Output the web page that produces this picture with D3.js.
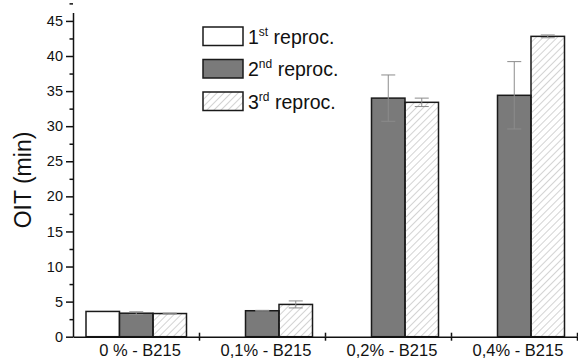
<!DOCTYPE html>
<html>
<head>
<meta charset="utf-8">
<script src="https://cdn.jsdelivr.net/npm/d3@7"></script>
<style>
  body { margin: 0; background: #fff; }
  text { font-family: "Liberation Sans", Arial, sans-serif; fill: #111; }
</style>
</head>
<body>
<div id="chart"></div>
<script>
// values
const categories = ["0 % - B215", "0,1% - B215", "0,2% - B215", "0,4% - B215"];
const series = ["1st", "2nd", "3rd"];
const seriesSup = ["st", "nd", "rd"];
const first = [3.6, null, null, null];
const second = [3.35, 3.7, 34.0, 34.4];
const third = [3.3, 4.6, 33.4, 42.8];
const firstErr = [0, 0, 0, 0];
const secondErr = [0.2, 0.05, 3.3, 4.8];
const thirdErr = [0.05, 0.5, 0.6, 0.2];
const yTicks = [0, 5, 10, 15, 20, 25, 30, 35, 40, 45];

const width = 578, height = 358;
const plotLeft = 73, plotRight = 577, plotTop = 12.5, plotBottom = 336.7;

const svg = d3.select("#chart").append("svg")
  .attr("width", width)
  .attr("height", height);

// hatch for the 3rd series
const defs = svg.append("defs");
defs.append("pattern")
  .attr("id", "hatch")
  .attr("patternUnits", "userSpaceOnUse")
  .attr("width", 5).attr("height", 5)
  .attr("patternTransform", "rotate(45)")
  .append("line")
    .attr("x1", 0).attr("y1", 0).attr("x2", 0).attr("y2", 5)
    .attr("stroke", "#a8a8a8").attr("stroke-width", 1);

const fills = ["#ffffff", "#7a7a7a", "url(#hatch)"];

let x0 = d3.scaleBand().domain(categories).range([plotLeft, plotRight]).padding(0);
let x1 = d3.scaleBand().domain(series).range([13, x0.bandwidth() - 12.5]);
let y = d3.scaleLinear().domain([0, 46.2]).range([plotBottom, plotTop]);

// build rows for the bars
let rows = [];
categories.forEach(function(c, i) {
  [first, second, third].forEach(function(arr, s) {
    let errs = [firstErr, secondErr, thirdErr][s];
    if (arr[i] != null) rows.push({cat: c, s: s, v: arr[i], e: errs[i]});
  });
});

svg.selectAll("rect.bar")
  .data(rows)
  .enter()
  .append("rect")
    .attr("class", "bar")
    .attr("x", function(d) { return x0(d.cat) + x1(series[d.s]); })
    .attr("y", function(d) { return y(d.v); })
    .attr("width", x1.bandwidth())
    .attr("height", function(d) { return y(0) - y(d.v); })
    .attr("fill", function(d) { return fills[d.s]; })
    .attr("stroke", "#1a1a1a")
    .attr("stroke-width", 1.5);

// error bars
let errRows = rows.filter(function(d) { return d.e > 0; });
let eb = svg.selectAll("g.err").data(errRows).enter().append("g")
  .attr("class", "err")
  .attr("stroke", "#8c8c8c")
  .attr("stroke-width", 1);
function cx(d) { return x0(d.cat) + x1(series[d.s]) + x1.bandwidth() / 2; }
eb.append("line")
  .attr("x1", cx).attr("x2", cx)
  .attr("y1", function(d) { return y(d.v + d.e); })
  .attr("y2", function(d) { return y(d.v - d.e); });
eb.append("line")
  .attr("x1", function(d) { return cx(d) - 7; }).attr("x2", function(d) { return cx(d) + 7; })
  .attr("y1", function(d) { return y(d.v + d.e); })
  .attr("y2", function(d) { return y(d.v + d.e); });
eb.append("line")
  .attr("x1", function(d) { return cx(d) - 7; }).attr("x2", function(d) { return cx(d) + 7; })
  .attr("y1", function(d) { return y(d.v - d.e); })
  .attr("y2", function(d) { return y(d.v - d.e); });

// y axis: major + minor ticks
let yAxis = svg.append("g")
  .attr("transform", "translate(" + plotLeft + ",0)")
  .call(d3.axisLeft(y).tickValues(yTicks).tickSize(7).tickPadding(3).tickSizeOuter(0));
yAxis.selectAll("text").attr("font-size", "14.5px").attr("font-family", "Liberation Sans, Arial, sans-serif");
svg.append("g")
  .attr("transform", "translate(" + plotLeft + ",0)")
  .call(d3.axisLeft(y).tickValues(yTicks.map(function(t) { return t + 2.5; })).tickSize(3.5).tickFormat("").tickSizeOuter(0))
  .select(".domain").remove();
svg.selectAll(".tick line, .domain").attr("stroke", "#111").attr("stroke-width", 1.5);

// x axis with crossing ticks at category boundaries
let xb = d3.scaleLinear().domain([0, categories.length]).range([plotLeft, plotRight]);
let bounds = d3.range(1, categories.length + 1);
let xAxis = svg.append("g").attr("transform", "translate(0," + plotBottom + ")");
xAxis.call(d3.axisBottom(xb).tickValues(bounds).tickSize(4).tickFormat("").tickSizeOuter(0));
xAxis.append("g").call(d3.axisTop(xb).tickValues(bounds).tickSize(4).tickFormat("").tickSizeOuter(0))
  .select(".domain").remove();
xAxis.selectAll("line, path").attr("stroke", "#111").attr("stroke-width", 1.5);
xAxis.selectAll("text.cat")
  .data(categories)
  .enter()
  .append("text")
    .attr("class", "cat")
    .attr("x", function(d) { return x0(d) + x0.bandwidth() / 2 + 4; })
    .attr("y", 19.5)
    .attr("text-anchor", "middle")
    .attr("font-size", "16.5px")
    .text(function(d) { return d; });

// y label
svg.append("text")
  .attr("transform", "translate(31,180) rotate(-90)")
  .attr("text-anchor", "middle")
  .attr("font-size", "23px")
  .text("OIT (min)");

// legend
let legend = svg.selectAll("g.leg")
  .data(series)
  .enter()
  .append("g")
    .attr("class", "leg")
    .attr("transform", function(d, i) { return "translate(203," + (27 + i * 32.5) + ")"; });
legend.append("rect")
  .attr("width", 40).attr("height", 18.5)
  .attr("fill", function(d, i) { return fills[i]; })
  .attr("stroke", "#1a1a1a").attr("stroke-width", 1.5);
let lt = legend.append("text")
  .attr("x", 45).attr("y", 16.5)
  .attr("font-size", "19.5px");
lt.append("tspan").text(function(d) { return d.charAt(0); });
lt.append("tspan").attr("font-size", "12px").attr("dy", -8)
  .text(function(d, i) { return seriesSup[i]; });
lt.append("tspan").attr("dy", 8).text(" reproc.");
</script>
</body>
</html>
